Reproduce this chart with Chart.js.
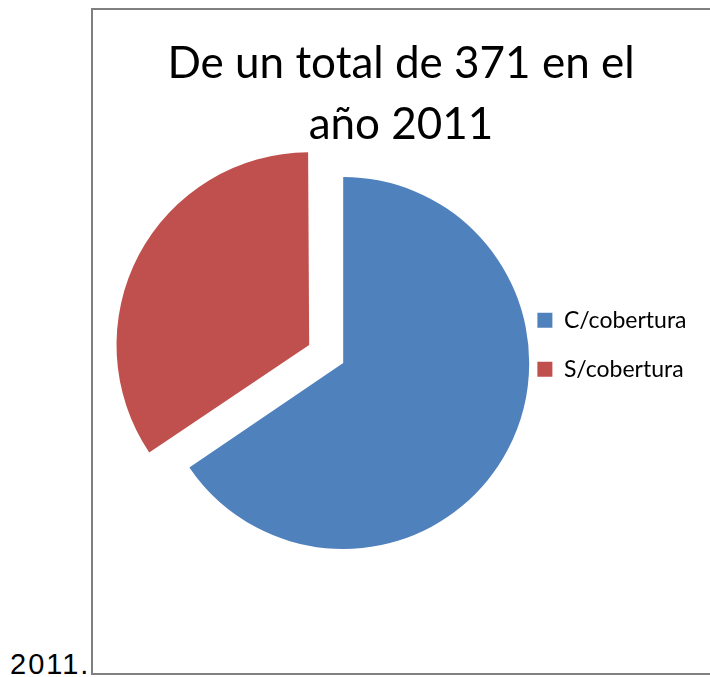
<!DOCTYPE html>
<html>
<head>
<meta charset="utf-8">
<script src="https://cdn.jsdelivr.net/npm/chart.js@4"></script>
<style>
  html, body { margin: 0; padding: 0; background: #fff; overflow: hidden; }
  #wrap { position: relative; width: 710px; height: 677px; }
  #frame { position: absolute; left: 91px; top: 8px; width: 640px; height: 663px; border: 2px solid #808080; }
  #year { position: absolute; left: 10px; top: 650px; font: 29px "Liberation Sans", Arial, sans-serif; line-height: 29px; letter-spacing: 2px; color: #000; }
  #pie { position: absolute; left: 0; top: 0; }
</style>
</head>
<body>
<div id="wrap">
  <div id="frame"></div>
  <div id="year">2011.</div>
  <canvas id="pie" width="710" height="677"></canvas>
</div>
<script>
const categories = ['C/cobertura', 'S/cobertura'];
const counts = [243, 128];
const titleLines = ['De un total de 371 en el', 'año 2011'];

const ctx = document.getElementById('pie').getContext('2d');

const data = {
  labels: categories,
  datasets: [{
    data: counts,
    backgroundColor: ['#4F81BD', '#C0504D'],
    borderWidth: 0,
    offset: [0, 154]
  }]
};

const config = {
  type: 'pie',
  data,
  options: {
    responsive: false,
    animation: false,
    radius: 186,
    layout: {
      padding: { left: 105.5, right: 13.5, top: 12.5, bottom: 0 }
    },
    plugins: {
      title: {
        display: true,
        text: titleLines,
        color: '#000',
        font: { family: 'Lato', size: 44, weight: 'normal', lineHeight: 1.386 },
        padding: { top: 21, bottom: -106.5 }
      },
      // empty box on the left, pushes the pie right of the title centre
      subtitle: {
        display: true,
        text: '',
        position: 'left',
        fullSize: false,
        font: { size: 10, lineHeight: 1 },
        padding: { top: 29.75, bottom: 29.75 }
      },
      legend: {
        position: 'right',
        maxWidth: 300,
        labels: {
          boxWidth: 15,
          boxHeight: 15,
          padding: 26,
          color: '#000',
          font: { family: 'Lato', size: 23 }
        }
      },
      tooltip: { enabled: false }
    }
  }
};

let myChart = new Chart(ctx, config);
</script>
</body>
</html>
